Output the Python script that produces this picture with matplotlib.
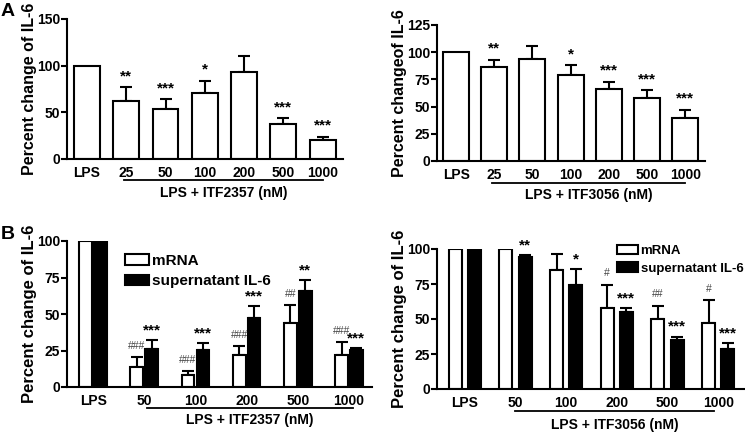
import matplotlib
matplotlib.use("Agg")
import matplotlib.pyplot as plt
import numpy as np
from matplotlib.patches import Patch

plt.rcParams['font.family'] = ['Liberation Sans', 'DejaVu Sans']
plt.rcParams['font.weight'] = 'bold'

# ---------------- data ----------------
a_cats = ["LPS", "25", "50", "100", "200", "500", "1000"]
a1_vals = [100, 62, 54, 71, 93, 37, 20]
a1_err = [0, 15, 10, 13, 17, 7, 4]
a1_sig = ["", "**", "***", "*", "", "***", "***"]

a2_vals = [100, 86, 94, 79, 66, 57.5, 39.5]
a2_err = [0, 7, 12, 9, 7, 7.5, 7.5]
a2_sig = ["", "**", "", "*", "***", "***", "***"]

b_cats = ["LPS", "50", "100", "200", "500", "1000"]
b1_mrna = [100, 13.5, 8, 22, 44, 22]
b1_mrna_err = [0, 7, 3, 6, 12, 8.5]
b1_mrna_sig = ["", "###", "###", "###", "##", "###"]
b1_sup = [100, 26, 25.5, 47, 66, 25.5]
b1_sup_err = [0, 6.5, 4.5, 8.5, 7, 1]
b1_sup_sig = ["", "***", "***", "***", "**", "***"]

b2_mrna = [100, 100, 85, 58, 50, 47.5]
b2_mrna_err = [0, 0, 11.5, 16.5, 9.5, 16]
b2_mrna_sig = ["", "", "", "#", "##", "#"]
b2_sup = [100, 94, 74.5, 55, 35, 28.5]
b2_sup_err = [0, 1.8, 11.5, 2.7, 2.5, 4.5]
b2_sup_sig = ["", "**", "*", "***", "***", "***"]

legend_labels = ["mRNA", "supernatant IL-6"]

W, H = 745, 432
fig = plt.figure(figsize=(W / 100, H / 100), dpi=100)


def ax_px(x0, x1, ytop, ybot):
    return fig.add_axes([x0 / W, 1 - ybot / H, (x1 - x0) / W, (ybot - ytop) / H])


LW = 1.5


def style(ax, ylim, yticks, ylabel, ylsize):
    ax.set_ylim(*ylim)
    ax.set_yticks(yticks)
    ax.spines['top'].set_visible(False)
    ax.spines['right'].set_visible(False)
    ax.spines['left'].set_linewidth(LW)
    ax.spines['bottom'].set_linewidth(LW)
    ax.tick_params(axis='y', direction='out', length=4, width=LW, labelsize=10, pad=1)
    ax.tick_params(axis='x', length=0, labelsize=10, pad=5)
    for lab in ax.get_xticklabels() + ax.get_yticklabels():
        lab.set_fontweight('bold')
    ax.set_ylabel(ylabel, fontsize=ylsize, fontweight='bold', labelpad=0)


def sig_text(ax, x, top, s, off_star, off_hash):
    if not s:
        return
    if '#' in s:
        ax.annotate(s, (x, top), xytext=(0, off_hash), textcoords='offset points',
                    ha='center', va='baseline', fontsize=7.5, fontweight='normal',
                    color='#444444', annotation_clip=False)
    else:
        ax.annotate(s, (x, top), xytext=(0, off_star), textcoords='offset points',
                    ha='center', va='baseline', fontsize=11, fontweight='bold',
                    annotation_clip=False)


def bracket(ax, x0, x1, yline, ylabel_y, label):
    tr = ax.get_xaxis_transform()
    ax.plot([x0, x1], [yline, yline], color='black', lw=1.3, transform=tr, clip_on=False)
    ax.text((x0 + x1) / 2, ylabel_y, label, transform=tr, ha='center', va='center',
            fontsize=10, fontweight='bold')


def single_panel(ax, vals, err, sig, xlim, width, ylim, yticks, ylabel, br, brlabel, off):
    x = np.arange(len(a_cats))
    ax.bar(x, vals, width=width, color='white', edgecolor='black', linewidth=LW, zorder=2)
    ax.errorbar(x[1:], np.array(vals[1:]), yerr=[np.zeros(len(vals) - 1), np.array(err[1:])],
                fmt='none', ecolor='black', elinewidth=LW, capsize=4.5, capthick=LW, zorder=1)
    ax.set_xticks(x)
    ax.set_xticklabels(a_cats)
    ax.set_xlim(*xlim)
    style(ax, ylim, yticks, ylabel, 11.5)
    for xi, v, e, s in zip(x, vals, err, sig):
        sig_text(ax, xi, v + e, s, off, off)
    bracket(ax, br[0], br[1], br[2], br[3], brlabel)


def double_panel(ax, m, me, ms, s_, se, ss, xlim, width, offs, ylabel, br, brlabel,
                 off_star, off_hash, leg_anchor, legsize):
    x = np.arange(len(b_cats))
    xm = x - offs
    xs = x + offs
    ax.bar(xm, m, width=width, color='white', edgecolor='black', linewidth=LW, zorder=2)
    ax.bar(xs, s_, width=width, color='black', edgecolor='black', linewidth=LW, zorder=2)
    ax.errorbar(xm, m, yerr=[np.zeros(len(m)), me], fmt='none', ecolor='black',
                elinewidth=LW, capsize=4, capthick=LW, zorder=1)
    ax.errorbar(xs, s_, yerr=[np.zeros(len(s_)), se], fmt='none', ecolor='black',
                elinewidth=LW, capsize=4, capthick=LW, zorder=1)
    ax.set_xticks(x)
    ax.set_xticklabels(b_cats)
    ax.set_xlim(*xlim)
    style(ax, (0, 100), [0, 25, 50, 75, 100], ylabel, 12)
    for i in range(len(x)):
        sig_text(ax, xm[i], m[i] + me[i], ms[i], off_star, off_hash)
        sig_text(ax, xs[i], s_[i] + se[i], ss[i], off_star, off_hash)
    bracket(ax, br[0], br[1], br[2], br[3], brlabel)
    handles = [Patch(facecolor='white', edgecolor='black', linewidth=LW),
               Patch(facecolor='black', edgecolor='black', linewidth=LW)]
    ax.legend(handles, legend_labels, loc='upper left', bbox_to_anchor=leg_anchor,
              frameon=False, handlelength=1.6, handleheight=0.7, handletextpad=0.2,
              labelspacing=0.4, borderaxespad=0, borderpad=0,
              prop={'weight': 'bold', 'size': legsize})


# Panel A left
axA1 = ax_px(67, 343, 19, 159)
single_panel(axA1, a1_vals, a1_err, a1_sig, (-0.51, 6.52), 0.66, (0, 150), [0, 50, 100, 150],
             "Percent change of IL-6", (0.95, 6.0, -0.15, -0.245), "LPS + ITF2357 (nM)", 5)

# Panel A right
axA2 = ax_px(437, 705, 25, 161)
single_panel(axA2, a2_vals, a2_err, a2_sig, (-0.5, 6.52), 0.68, (0, 125), [0, 25, 50, 75, 100, 125],
             "Percent changeof IL-6", (0.94, 6.0, -0.16, -0.25), "LPS + ITF3056 (nM)", 5)

# Panel B left
axB1 = ax_px(67, 372, 241, 387)
double_panel(axB1, b1_mrna, b1_mrna_err, b1_mrna_sig, b1_sup, b1_sup_err, b1_sup_sig,
             (-0.51, 5.45), 0.25, 0.146, "Percent change of IL-6",
             (1.05, 5.07, -0.144, -0.225), "LPS + ITF2357 (nM)", 4, 6, (0.19, 0.91), 11)

# Panel B right
axB2 = ax_px(437, 745, 249, 389)
double_panel(axB2, b2_mrna, b2_mrna_err, b2_mrna_sig, b2_sup, b2_sup_err, b2_sup_sig,
             (-0.55, 5.53), 0.26, 0.19, "Percent change of IL-6",
             (0.99, 4.92, -0.157, -0.257), "LPS + ITF3056 (nM)", 4, 6, (0.584, 1.03), 9.5)

fig.text(1 / W, 1 - 3 / H, "A", fontsize=14, fontweight='bold', ha='left', va='top')
fig.text(1 / W, 1 - 226 / H, "B", fontsize=14, fontweight='bold', ha='left', va='top')

fig.savefig("out.png", dpi=100)
